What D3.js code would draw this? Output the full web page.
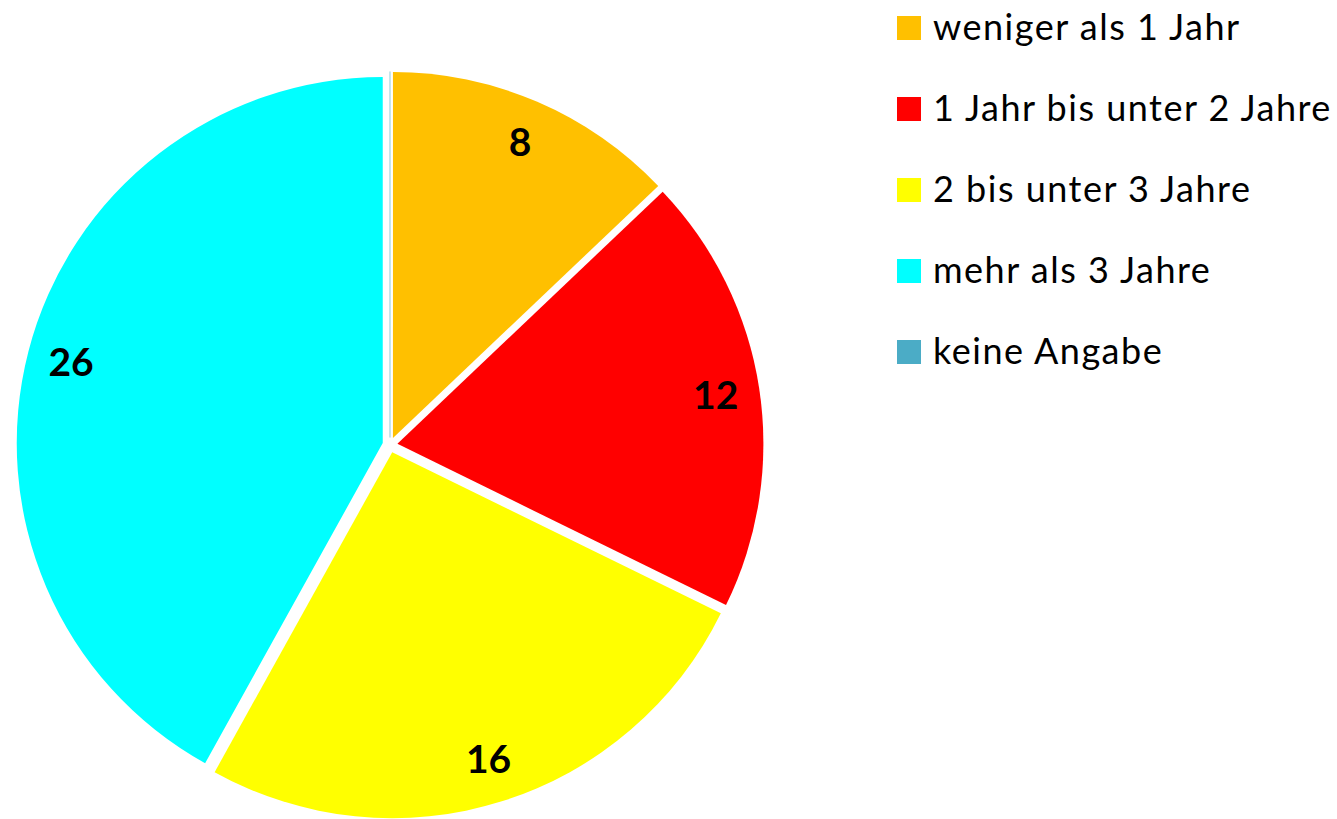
<!DOCTYPE html>
<html>
<head>
<meta charset="utf-8">
<script src="https://cdn.jsdelivr.net/npm/d3@7"></script>
<style>
    html, body { margin: 0; padding: 0; background: #fff; }
    svg { display: block; }
</style>
</head>
<body>
<div id="chart"></div>
<script>
// chart data
const categories = ["weniger als 1 Jahr", "1 Jahr bis unter 2 Jahre", "2 bis unter 3 Jahre", "mehr als 3 Jahre", "keine Angabe"];
const values = [8, 12, 16, 26, 0];
const colors = ["#FFC000", "#FF0000", "#FFFF00", "#00FFFF", "#4BACC6"];

const width = 1337, height = 819;
const cx = 390, cy = 445;
const radius = 366;
const explode = 7.5;
const labelRadius = 322;

const svg = d3.select("#chart").append("svg")
    .attr("width", width)
    .attr("height", height);

const g = svg.append("g")
    .attr("transform", `translate(${cx},${cy})`);

const pie = d3.pie()
    .sort(null)
    .value(d => d.value);

const arcs = pie(categories.map((c, i) => ({name: c, value: values[i], color: colors[i]})));

const arc = d3.arc().innerRadius(0).outerRadius(radius);

// offset each slice a little along its middle angle
const offset = (d, r) => {
    const a = (d.startAngle + d.endAngle) / 2;
    return [r * Math.sin(a), -r * Math.cos(a)];
};

arcs.forEach(d => {
    const [dx, dy] = offset(d, explode);
    const slice = g.append("g").attr("transform", `translate(${dx},${dy})`);
    if (d.value === 0) {
        // empty slice shows up only as a faint line
        slice.append("path")
            .attr("d", arc(d))
            .style("fill", "none")
            .style("stroke", d.data.color)
            .style("stroke-opacity", 0.35)
            .style("stroke-width", 1);
    } else {
        slice.append("path")
            .attr("d", arc(d))
            .style("fill", d.data.color);
    }
});

// value labels
arcs.filter(d => d.value > 0).forEach(d => {
    const [lx, ly] = offset(d, labelRadius + explode);
    g.append("text")
        .attr("x", lx)
        .attr("y", ly)
        .attr("dy", "0.36em")
        .text(d.value)
        .style("text-anchor", "middle")
        .style("font-family", "Lato, 'Open Sans', sans-serif")
        .style("font-weight", "bold")
        .style("font-size", "39px")
        .style("fill", "#000");
});

// legend
const legend = svg.append("g").attr("transform", "translate(897,28)");
categories.forEach((c, i) => {
    const item = legend.append("g").attr("transform", `translate(0,${i * 81})`);
    item.append("rect")
        .attr("x", 0)
        .attr("y", -12)
        .attr("width", 24)
        .attr("height", 24)
        .style("fill", colors[i]);
    item.append("text")
        .attr("x", 36)
        .attr("y", 12)
        .text(c)
        .style("font-family", "Lato, 'Open Sans', sans-serif")
        .style("font-size", "36px")
        .style("letter-spacing", "1.5px")
        .style("fill", "#000");
});
</script>
</body>
</html>
